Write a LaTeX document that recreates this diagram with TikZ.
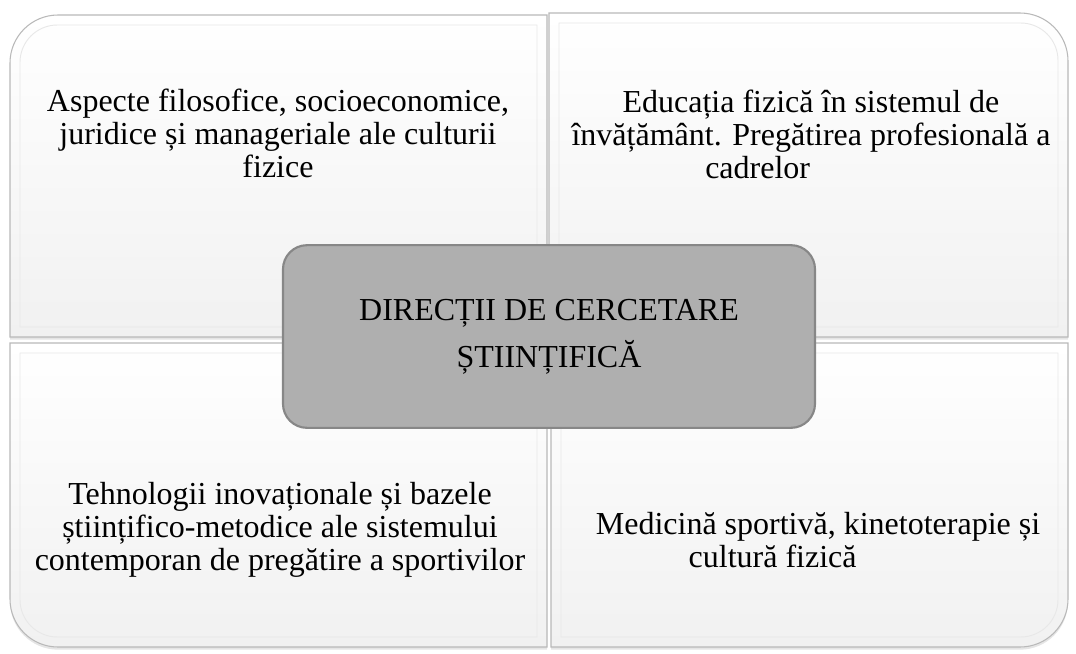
\documentclass[tikz,border=0pt]{standalone}
\usepackage{fontspec}
\setmainfont{Liberation Serif}
\usetikzlibrary{positioning, shadows}
\tikzset{
		>=stealth
	}
\definecolor{hubfill}{RGB}{175,175,175}
\definecolor{hubline}{RGB}{135,135,135}

\begin{document}
\begin{tikzpicture}[x=0.75pt, y=-0.75pt,
					panel/.style={draw=gray!55, line width=0.8pt, top color=white, middle color=white, bottom color=gray!11,
						drop shadow={shadow xshift=0pt, shadow yshift=-2pt, opacity=0.2}},
					bevel/.style={draw=gray!18, line width=0.7pt},
					quadtext/.style={align=center, font=\fontsize{24}{24.75}\selectfont},
					hub/.style={draw=hubline, line width=1.6pt, fill=hubfill, rounded corners=18pt,
						minimum width=399pt, minimum height=137pt, align=center, font=\fontsize{24}{35}\selectfont}]
		\useasboundingbox[fill=white] (0,0) rectangle (1076,654);
		% the four panels, each with one rounded outer corner
		\path[panel] (547,337) -- (10,337) [rounded corners=36pt] -- (10,15) [sharp corners] -- (547,15) -- cycle;
		\path[bevel] (537,327) -- (20,327) [rounded corners=28pt] -- (20,25) [sharp corners] -- (537,25) -- cycle;
		\path[panel] (549,337) -- (549,13) [rounded corners=36pt] -- (1068,13) [sharp corners] -- (1068,337) -- cycle;
		\path[bevel] (559,327) -- (559,23) [rounded corners=28pt] -- (1058,23) [sharp corners] -- (1058,327) -- cycle;
		\path[panel] (547,343) -- (547,647) [rounded corners=36pt] -- (10,647) [sharp corners] -- (10,343) -- cycle;
		\path[bevel] (537,353) -- (537,637) [rounded corners=28pt] -- (20,637) [sharp corners] -- (20,353) -- cycle;
		\path[panel] (551,343) -- (1068,343) [rounded corners=36pt] -- (1068,647) [sharp corners] -- (551,647) -- cycle;
		\path[bevel] (561,353) -- (1058,353) [rounded corners=28pt] -- (1058,637) [sharp corners] -- (561,637) -- cycle;
		% texts
		\node[quadtext] (philo) at (278,133) {Aspecte filosofice, socioeconomice,\\juridice și manageriale ale culturii\\fizice};
		\node[quadtext] (educ) at (811,134) {Educația fizică în sistemul de\\învățământ. Pregătirea profesională a\\cadrelor\hspace*{80pt}};
		\node[quadtext] (tech) at (280,530) {Tehnologii inovaționale și bazele\\științifico-metodice ale sistemului\\contemporan de pregătire a sportivilor};
		\node[quadtext] (med) at (818,540) {Medicină sportivă, kinetoterapie și\\cultură fizică\hspace*{68pt}};
		\node[hub] (dir) at (549,336.5) {DIRECȚII DE CERCETARE\\ȘTIINȚIFICĂ};
	\end{tikzpicture}
\end{document}
